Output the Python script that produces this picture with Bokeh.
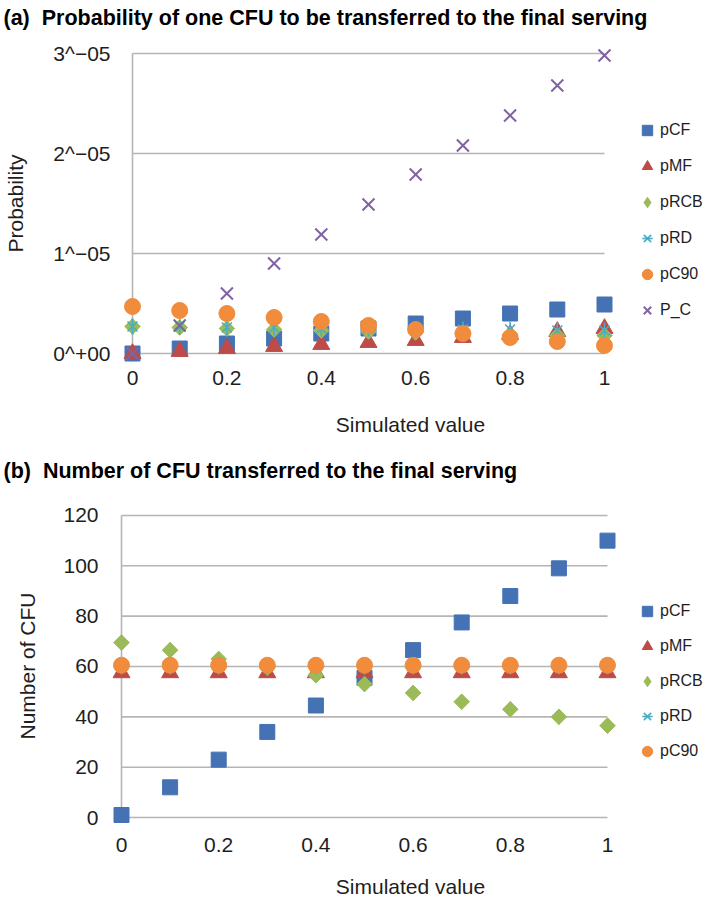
import numpy as np
from bokeh.plotting import figure
from bokeh.layouts import column
from bokeh.models import (FixedTicker, CustomJSTickFormatter, Legend, LegendItem,
                          Range1d, Title)
from bokeh.embed import file_html
from bokeh.resources import INLINE

# ---------------- data ----------------
x_vals = [0.0, 0.1, 0.2, 0.3, 0.4, 0.5, 0.6, 0.7, 0.8, 0.9, 1.0]
x_tick_values = [0.0, 0.2, 0.4, 0.6, 0.8, 1.0]
x_tick_labels = ["0", "0.2", "0.4", "0.6", "0.8", "1"]

# panel (a): probability of one CFU to be transferred
a_tick_values = [0.0, 1e-5, 2e-5, 3e-5]
a_tick_labels = ["0^+00", "1^\u221205", "2^\u221205", "3^\u221205"]
a_pCF = [0.0, 0.05e-5, 0.10e-5, 0.15e-5, 0.20e-5, 0.25e-5, 0.30e-5, 0.35e-5, 0.40e-5, 0.44e-5, 0.49e-5]
a_pMF = [0.0, 0.02e-5, 0.05e-5, 0.07e-5, 0.09e-5, 0.11e-5, 0.13e-5, 0.16e-5, 0.19e-5, 0.22e-5, 0.25e-5]
a_pRCB = [0.27e-5, 0.26e-5, 0.25e-5, 0.24e-5, 0.23e-5, 0.22e-5, 0.21e-5, 0.20e-5, 0.19e-5, 0.18e-5, 0.18e-5]
a_pRD = [0.27e-5, 0.27e-5, 0.26e-5, 0.26e-5, 0.25e-5, 0.25e-5, 0.24e-5, 0.24e-5, 0.24e-5, 0.23e-5, 0.23e-5]
a_pC90 = [0.47e-5, 0.43e-5, 0.40e-5, 0.36e-5, 0.32e-5, 0.28e-5, 0.24e-5, 0.20e-5, 0.16e-5, 0.12e-5, 0.08e-5]
a_P_C = [0.0, 0.28e-5, 0.60e-5, 0.90e-5, 1.19e-5, 1.49e-5, 1.79e-5, 2.08e-5, 2.38e-5, 2.68e-5, 2.98e-5]

# panel (b): number of CFU transferred
b_tick_values = [0, 20, 40, 60, 80, 100, 120]
b_tick_labels = ["0", "20", "40", "60", "80", "100", "120"]
b_pCF = [1.0, 12.0, 23.0, 34.0, 44.5, 55.5, 66.5, 77.5, 88.0, 99.0, 110.0]
b_pMF = [57.5, 57.5, 57.5, 57.5, 57.5, 57.5, 57.5, 57.5, 57.5, 57.5, 57.5]
b_pRCB = [69.5, 66.5, 63.0, 59.5, 56.5, 53.0, 49.5, 46.0, 43.0, 40.0, 36.5]
b_pRD = [60.0, 60.0, 60.0, 60.0, 60.0, 60.0, 60.0, 60.0, 60.0, 60.0, 60.0]
b_pC90 = [60.5, 60.5, 60.5, 60.5, 60.5, 60.5, 60.5, 60.5, 60.5, 60.5, 60.5]

# ---------------- styles ----------------
C_CF = "#4472B4"
C_MF = "#BE4B48"
C_RCB = "#9BBB59"
C_RD = "#4BACC6"
C_C90 = "#F08C3C"
C_PC = "#8064A2"
GRID = "#B5B5B5"
TXT = "#1E1E1E"
FONT = "Liberation Sans"
W = 709
FRAME_LEFT = 112
FRAME_RIGHT = 708


def build(title, ylabel, yticks, ylabels, series, fig_top, fig_h,
          frame_top, frame_bottom, x0_px, x1_px, y0_px, ytop_px,
          legend_left, legend_bottom, legend_spacing, title_gap):
    frame_left, frame_right = FRAME_LEFT, FRAME_RIGHT
    xmin, xmax = x_tick_values[0], x_tick_values[-1]
    ymin, ymax = yticks[0], yticks[-1]
    xs = xmin + (frame_left - x0_px) / (x1_px - x0_px) * (xmax - xmin)
    xe = xmin + (frame_right - x0_px) / (x1_px - x0_px) * (xmax - xmin)
    ys = ymin - (frame_bottom - y0_px) / (y0_px - ytop_px) * (ymax - ymin)
    ye = ymin + (y0_px - frame_top) / (y0_px - ytop_px) * (ymax - ymin)

    p = figure(width=W, height=fig_h, output_backend="svg", toolbar_location=None,
               x_range=Range1d(xs, xe), y_range=Range1d(ys, ye),
               min_border_left=frame_left, min_border_right=W - frame_right,
               min_border_top=frame_top - fig_top,
               min_border_bottom=fig_top + fig_h - frame_bottom)
    p.outline_line_color = None
    p.background_fill_color = "white"
    p.border_fill_color = "white"
    p.xgrid.visible = False
    p.ygrid.visible = False

    # spacer between the frame and the title, then the title itself
    spacer = Title(text=" ", text_font_size="1px", standoff=title_gap)
    p.add_layout(spacer, "above")
    t = Title(text=title, align="left", offset=-(frame_left - 3),
              text_font=FONT, text_font_size="21.5px", text_font_style="bold",
              text_color="black", standoff=0)
    p.add_layout(t, "above")

    # gridlines and vertical axis line
    p.segment(x0=[xmin] * len(yticks), x1=[xmax] * len(yticks), y0=yticks, y1=yticks,
              line_color=GRID, line_width=1.6)
    p.segment(x0=[xmin], x1=[xmin], y0=[ymin], y1=[ymax], line_color=GRID, line_width=1.6)

    items = []
    for name, vals, kind in series:
        rs = []
        if kind == "square":
            rs.append(p.scatter(x_vals, vals, marker="square", size=15, fill_color=C_CF,
                                line_color=C_CF, line_width=1))
        elif kind == "triangle":
            rs.append(p.scatter(x_vals, vals, marker="triangle", size=17, fill_color=C_MF,
                                line_color=C_MF, line_width=1))
        elif kind == "diamond":
            # diamond marker (used as the legend swatch), covered by a rotated square
            rs.append(p.scatter(x_vals, vals, marker="diamond", size=15, fill_color=C_RCB,
                                line_color=C_RCB, line_width=1))
            p.scatter(x_vals, vals, marker="square", angle=np.pi / 4, size=11,
                      fill_color=C_RCB, line_color=C_RCB, line_width=1)
        elif kind == "star":
            rs.append(p.scatter(x_vals, vals, marker="x", size=14, line_color=C_RD,
                                line_width=1.6))
            rs.append(p.scatter(x_vals, vals, marker="dash", angle=np.pi / 2, size=16,
                                line_color=C_RD, line_width=1.6))
        elif kind == "circle":
            rs.append(p.scatter(x_vals, vals, marker="circle", size=16, fill_color=C_C90,
                                line_color=C_C90, line_width=1))
        elif kind == "x":
            rs.append(p.scatter(x_vals, vals, marker="x", size=17, line_color=C_PC,
                                line_width=2))
        items.append(LegendItem(label=name, renderers=rs))

    leg = Legend(items=items, location=(legend_left - frame_left, frame_bottom - legend_bottom),
                 glyph_width=26, glyph_height=28, label_height=28, spacing=legend_spacing,
                 padding=0, margin=0, label_standoff=0, border_line_color=None,
                 background_fill_alpha=0, label_text_font=FONT, label_text_font_size="16px",
                 label_text_color=TXT)
    p.add_layout(leg)

    for ax in (p.xaxis[0], p.yaxis[0]):
        ax.axis_line_color = None
        ax.major_tick_line_color = None
        ax.minor_tick_line_color = None
        ax.major_tick_out = 0
        ax.major_tick_in = 0
        ax.minor_tick_out = 0
        ax.minor_tick_in = 0
        ax.major_label_text_font = FONT
        ax.major_label_text_font_size = "21px"
        ax.major_label_text_color = TXT
        ax.axis_label_text_font = FONT
        ax.axis_label_text_font_size = "21px"
        ax.axis_label_text_font_style = "normal"
        ax.axis_label_text_color = TXT

    p.xaxis.ticker = FixedTicker(ticks=x_tick_values)
    p.xaxis.formatter = CustomJSTickFormatter(args=dict(labels=x_tick_labels),
                                              code="return labels[index];")
    p.xaxis.axis_label = "Simulated value"

    p.yaxis.ticker = FixedTicker(ticks=yticks)
    p.yaxis.formatter = CustomJSTickFormatter(args=dict(labels=ylabels),
                                              code="return labels[index];")
    p.yaxis.axis_label = ylabel
    return p


pa = build("(a)\u00a0\u00a0Probability of one CFU to be transferred to the final serving",
           "Probability", a_tick_values, a_tick_labels,
           [("pCF", a_pCF, "square"), ("pMF", a_pMF, "triangle"), ("pRCB", a_pRCB, "diamond"),
            ("pRD", a_pRD, "star"), ("pC90", a_pC90, "circle"), ("P_C", a_P_C, "x")],
           fig_top=0, fig_h=440, frame_top=42, frame_bottom=364,
           x0_px=132, x1_px=604, y0_px=353, ytop_px=53,
           legend_left=634, legend_bottom=324, legend_spacing=8, title_gap=10)
pa.yaxis.major_label_standoff = 2
pa.yaxis.axis_label_standoff = 23
pa.xaxis.major_label_standoff = 6
pa.xaxis.axis_label_standoff = 25

pb = build("(b)\u00a0\u00a0Number of CFU transferred to the final serving",
           "Number of CFU", b_tick_values, b_tick_labels,
           [("pCF", b_pCF, "square"), ("pMF", b_pMF, "triangle"), ("pRCB", b_pRCB, "diamond"),
            ("pRD", b_pRD, "star"), ("pC90", b_pC90, "circle")],
           fig_top=440, fig_h=460, frame_top=505, frame_bottom=827,
           x0_px=121, x1_px=607, y0_px=818, ytop_px=515,
           legend_left=634, legend_bottom=766, legend_spacing=7, title_gap=20)
pb.yaxis.major_label_standoff = 14
pb.yaxis.axis_label_standoff = 21
pb.xaxis.major_label_standoff = 11
pb.xaxis.axis_label_standoff = 20

layout = column(pa, pb, spacing=0)
open("out.html", "w").write(file_html(layout, INLINE))
